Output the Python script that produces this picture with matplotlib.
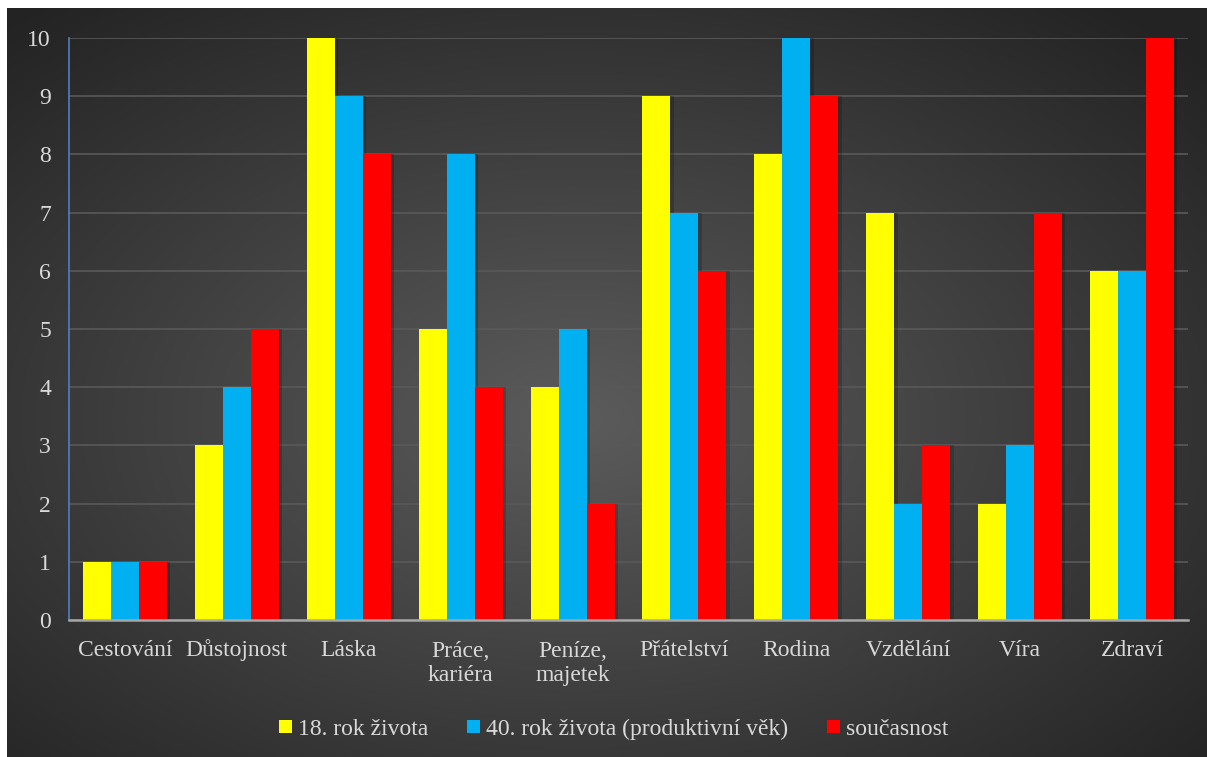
import numpy as np
import matplotlib.pyplot as plt

kategorie = ["Cestování", "Důstojnost", "Láska", "Práce,\nkariéra", "Peníze,\nmajetek",
             "Přátelství", "Rodina", "Vzdělání", "Víra", "Zdraví"]
rok18 = [1, 3, 10, 5, 4, 9, 8, 7, 2, 6]
rok40 = [1, 4, 9, 8, 5, 7, 10, 2, 3, 6]
soucasnost = [1, 5, 8, 4, 2, 6, 9, 3, 7, 10]
serie = ["18. rok života", "40. rok života (produktivní věk)", "současnost"]
barvy = ["#FFFF00", "#00B0F0", "#FF0000"]

plt.rcParams['font.family'] = ['Liberation Serif', 'DejaVu Serif']
text_barva = "#d9d9d9"
fs = 17

W, H = 1207, 757
fig = plt.figure(figsize=(W / 100, H / 100), dpi=100)
fig.patch.set_facecolor("white")

# pozadí s radiálním přechodem
bg = fig.add_axes([7 / W, 0, 1 - 7 / W, 1 - 8 / H])
yy, xx = np.mgrid[-1:1:300j, -1:1:480j]
r = np.sqrt((xx + 0.05) ** 2 + (yy - 0.1) ** 2) / np.sqrt(2)
g = 0.36 - 0.22 * np.clip(r, 0, 1)
bg.imshow(np.dstack([g, g, g]), aspect="auto", extent=[0, 1, 0, 1], interpolation="bilinear")
bg.axis("off")

ax = fig.add_axes([69 / W, 1 - 620 / H, (1188 - 69) / W, (620 - 38) / H])
ax.patch.set_alpha(0)
x = np.arange(len(kategorie))
w = 0.25
for i, (vals, lab, c) in enumerate(zip([rok18, rok40, soucasnost], serie, barvy)):
    pos = x + (i - 1) * w
    ax.bar(pos + 0.03, vals, w, color="black", alpha=0.18, zorder=2)
    ax.bar(pos, vals, w, color=c, label=lab, zorder=3)

ax.set_xlim(-0.5, len(kategorie) - 0.5)
ax.set_ylim(0, 10)
ax.set_yticks(range(11))
ax.yaxis.grid(True, color="#595959", linewidth=1.2, zorder=0)
ax.set_axisbelow(True)
for s in ["top", "right"]:
    ax.spines[s].set_visible(False)
ax.spines["left"].set_color("#4f81bd")
ax.spines["left"].set_linewidth(1.2)
ax.spines["bottom"].set_color("#a6a6a6")
ax.spines["bottom"].set_linewidth(1.8)
ax.spines["bottom"].set_zorder(4)
ax.tick_params(length=0, colors=text_barva, labelsize=fs)
ax.tick_params(axis="y", pad=13)
ax.set_xticks(x)
ax.set_xticklabels([])

# popisky kategorií: účaří prvního řádku 36 px pod osou
for xi, lab in zip(x, kategorie):
    n = lab.count("\n")
    ax.annotate(lab, (xi, 0), xycoords=("data", "axes fraction"),
                xytext=(0, -(36 + 25 * n) * 0.72), textcoords="offset points",
                ha="center", va="baseline", multialignment="center",
                fontsize=fs, color=text_barva, linespacing=1.2)

leg = fig.legend(loc="center", bbox_to_anchor=(614 / W, 1 - 729 / H), ncol=3, frameon=False,
                 fontsize=fs, handlelength=0.55, handleheight=0.47, handletextpad=0.25,
                 columnspacing=1.65, labelcolor=text_barva)

plt.savefig("out.png", dpi=100)
